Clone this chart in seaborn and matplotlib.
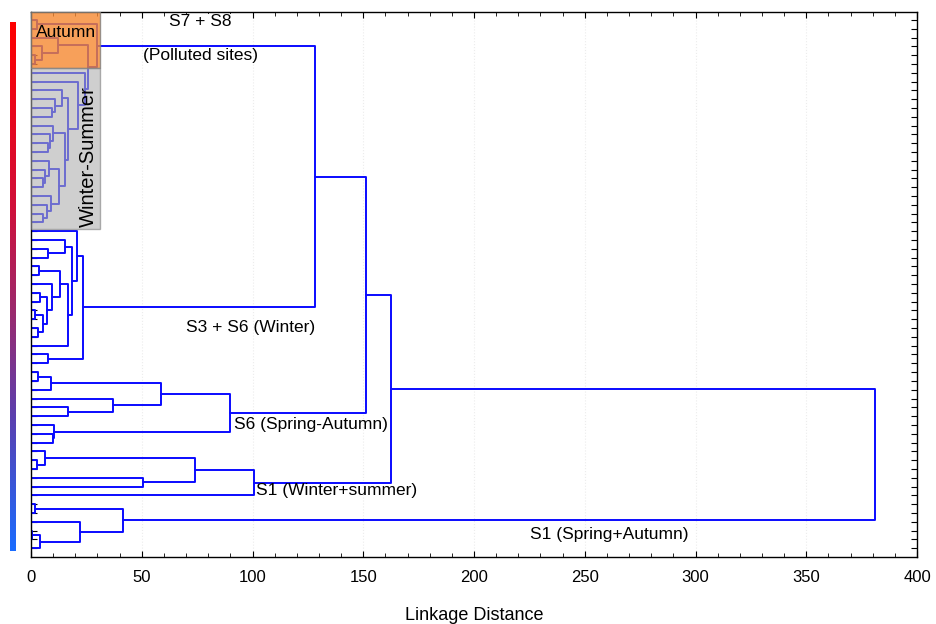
import numpy as np
import pandas as pd
import seaborn as sns
import matplotlib.pyplot as plt
from matplotlib.patches import Rectangle
from matplotlib.colors import LinearSegmentedColormap

# leaves are written as 0, a merge as [height, upper, lower]
autumn_pair = [2.6, 0, 0]
autumn_core = [12.2, 0, [4.8, 0, [2.0, 0, 0]]]
winter_summer_tree = [24.4, 0, [21.4, 0, [16.9,
    [14.0, 0, [11.0, 0, [9.5, 0, 0]]],
    [15.5,
        [10.0, 0, [8.5, 0, [7.5, 0, 0]]],
        [12.5,
            [8.0, 0, [6.5, 0, [5.5, 0, 0]]],
            [9.0, 0, [7.0, 0, [5.4, 0, 0]]]]]]]]
s3s6_winter_tree = [23.5,
    [20.6, 0, [18.4,
        [15.4, 0, [7.5, 0, 0]],
        [16.9, [13.1, [3.6, 0, 0],
                [9.3, 0, [7.1, [4.0, 0, 0], [5.5, [2.0, 0, 0], [3.0, 0, 0]]]]], 0]]],
    [7.5, 0, 0]]
s6_spring_autumn_tree = [89.8,
    [58.7, [9.0, [3.3, 0, 0], 0], [36.9, 0, [16.9, 0, 0]]],
    [10.4, 0, [10.0, 0, 0]]]
s1_winter_summer_tree = [100.7, [74.0, [6.3, 0, [2.6, 0, 0]], [50.6, 0, 0]], 0]
s1_spring_autumn_tree = [41.5, [1.8, 0, 0], [22.2, 0, [4.0, [0.5, 0, 0], 0]]]

# heights of the upper joins
h_autumn_ws = 25.8
h_polluted = 30.0
h_c = 128.2
h_b = 151.2
h_a = 162.5
h_root = 381.0

polluted = [h_polluted, autumn_pair, [h_autumn_ws, autumn_core, winter_summer_tree]]
tree = [h_root,
        [h_a, [h_b, [h_c, polluted, s3s6_winter_tree], s6_spring_autumn_tree],
         s1_winter_summer_tree],
        s1_spring_autumn_tree]


def walk(node, rows, counter):
    if not isinstance(node, list):
        y = counter[0]
        counter[0] += 1
        return y, 0.0
    h, a, b = node
    ya, ha = walk(a, rows, counter)
    yb, hb = walk(b, rows, counter)
    link = len(rows) // 4
    for k, (x, y) in enumerate([(ha, ya), (h, ya), (h, yb), (hb, yb)]):
        rows.append({"link": link, "order": k, "dist": x, "pos": y})
    return (ya + yb) / 2, h


rows = []
counter = [0]
walk(tree, rows, counter)
n_leaves = counter[0]
links = pd.DataFrame(rows)

sns.set_style("ticks")
plt.rcParams["font.family"] = ["Liberation Sans", "DejaVu Sans"]
plt.rcParams["text.color"] = "black"
plt.rcParams["axes.labelcolor"] = "black"
plt.rcParams["xtick.color"] = "black"
plt.rcParams["ytick.color"] = "black"

fig = plt.figure(figsize=(9.36, 6.24), dpi=100)
ax = fig.add_axes([31 / 936, 1 - 557 / 624, 886 / 936, 545 / 624])

sns.lineplot(data=links, x="dist", y="pos", units="link", estimator=None,
             sort=False, color="#0a0aff", linewidth=1.4, ax=ax, legend=False)

ax.set_xlim(0, 400)
ax.set_ylim(n_leaves, -0.9)
ax.set_xticks(np.arange(0, 401, 50))
ax.set_xticks(np.arange(0, 401, 10), minor=True)
ax.set_yticks(np.arange(n_leaves))
ax.set_yticklabels([])
ax.tick_params(axis="x", which="both", direction="in", top=True, labelsize=12, pad=9)
ax.tick_params(axis="x", which="major", length=4)
ax.tick_params(axis="x", which="minor", length=3)
ax.tick_params(axis="y", direction="in", right=True, length=4)
ax.grid(axis="x", which="major", color="#ececec", ls=":", lw=0.8)
for s in ax.spines.values():
    s.set_color("black")
    s.set_linewidth(1.0)
ax.set_xlabel("Linkage Distance", fontsize=13, labelpad=16)
ax.set_ylabel("")

# highlighted groups
ax.add_patch(Rectangle((0, -0.9), 31, 6.35, facecolor="#f58831", alpha=0.8,
                       edgecolor="#808080", lw=1, zorder=5))
ax.add_patch(Rectangle((0, 5.45), 31, 18.3, facecolor="#afafaf", alpha=0.6,
                       edgecolor="#808080", lw=1, zorder=5))
ax.text(16, 1.4, "Autumn", fontsize=12.5, ha="center", va="center", zorder=6)
ax.text(25.8, 15.5, "Winter-Summer", fontsize=14.5, rotation=90,
        ha="center", va="center", zorder=6)

ax.text(76.3, 0.2, "S7 + S8", fontsize=12.5, ha="center", va="center", zorder=7,
        bbox=dict(facecolor="white", edgecolor="none", pad=0))
ax.text(76.3, 4.0, "(Polluted sites)", fontsize=12.5, ha="center", va="center")
ax.text(70, 34.9, "S3 + S6 (Winter)", fontsize=12.5, ha="left", va="center")
ax.text(91.6, 46.0, "S6 (Spring-Autumn)", fontsize=12.5, ha="left", va="center")
ax.text(101.6, 53.5, "S1 (Winter+summer)", fontsize=12.5, ha="left", va="center")
ax.text(225.3, 58.5, "S1 (Spring+Autumn)", fontsize=12.5, ha="left", va="center")

# colour strip on the left
cmap = LinearSegmentedColormap.from_list(
    "strip", [(0, "#ff0000"), (0.35, "#d0103a"), (0.55, "#9a2a6e"),
              (0.75, "#5a40b0"), (1, "#1a6cff")])
cax = fig.add_axes([10 / 936, 1 - 551 / 624, 6 / 936, 529 / 624])
cax.imshow(np.linspace(0, 1, 256).reshape(-1, 1), aspect="auto", cmap=cmap)
cax.axis("off")

fig.savefig("out.png", dpi=100)
